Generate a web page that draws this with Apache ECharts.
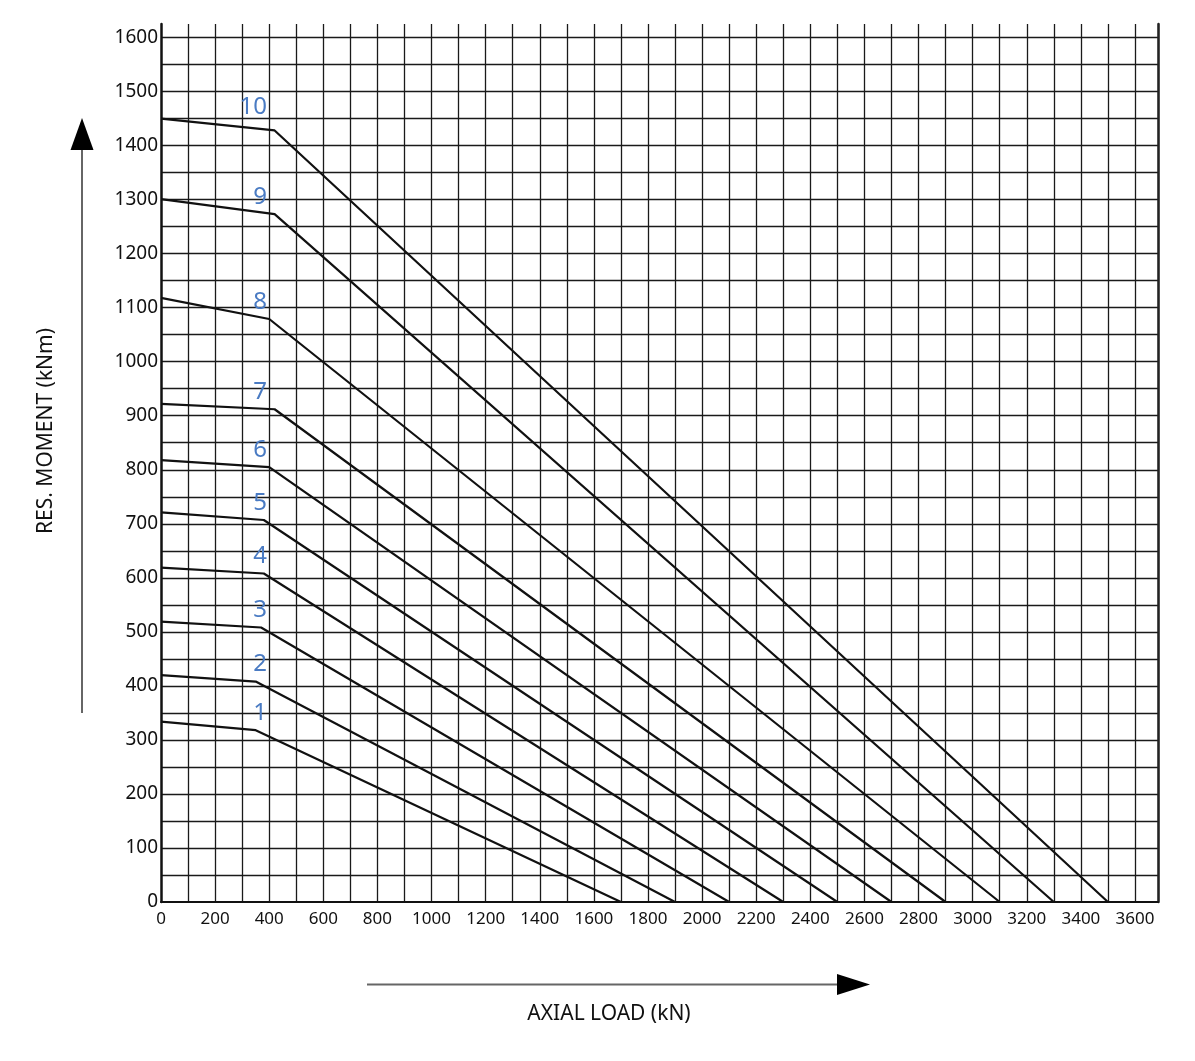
<!DOCTYPE html>
<html>
<head>
<meta charset="utf-8">
<script src="https://cdn.jsdelivr.net/npm/echarts@6/dist/echarts.min.js"></script>
<style>
  html, body { margin: 0; padding: 0; background: #fff; }
  #chart { width: 1195px; height: 1061px; }
</style>
</head>
<body>
<div id="chart"></div>
<script>
// ----------------------
// DATA
// ----------------------
const curveNames = ["1", "2", "3", "4", "5", "6", "7", "8", "9", "10"];
const startMoment = [334, 420, 519, 619, 721, 818, 922, 1118, 1301, 1450];
const breakLoad = [350, 350, 370, 380, 380, 400, 420, 400, 420, 420];
const breakMoment = [318, 408, 508, 608, 707, 805, 912, 1079, 1273, 1428];
const endLoad = [1700, 1900, 2100, 2300, 2500, 2700, 2900, 3100, 3300, 3500];

const labelLoad = 392; // right edge of the curve numbers

const FONT = "Noto Sans";
const INK = "#111";

const chart = echarts.init(document.getElementById("chart"));

const series = curveNames.map((name, i) => ({
  name: name,
  type: "line",
  symbol: "none",
  lineStyle: { color: INK, width: 2.2 },
  data: [
    [0, startMoment[i]],
    [breakLoad[i], breakMoment[i]],
    [endLoad[i], 0],
  ],
  markPoint: {
    symbol: "circle",
    symbolSize: 0,
    silent: true,
    label: {
      show: true,
      position: "inside",
      align: "right",
      // the top label sits a little higher in the original
      offset: [0, name === "10" ? -23 : -17],
      formatter: name,
      color: "#4a7bc3",
      fontFamily: FONT,
      fontSize: 24,
    },
    data: [{ coord: [labelLoad, breakMoment[i]] }],
  },
}));

chart.setOption({
  animation: false,
  backgroundColor: "#fff",
  grid: { left: 161, right: 37, top: 24, bottom: 159, outerBoundsMode: "none" },
  xAxis: {
    type: "value",
    min: 0,
    max: 3685,
    interval: 100,
    axisLine: { show: true, lineStyle: { color: INK, width: 2 } },
    axisTick: { show: false },
    axisLabel: {
      margin: 9,
      color: INK,
      fontFamily: FONT,
      fontSize: 17,
      formatter: (v) => (v % 200 === 0 && v <= 3600 ? String(v) : ""),
    },
    splitLine: {
      show: true,
      showMinLine: false,
      showMaxLine: true,
      lineStyle: { color: "#1a1a1a", width: 1.3 },
    },
  },
  yAxis: [
    {
      type: "value",
      min: 0,
      max: 1625,
      interval: 50,
      axisLine: { show: true, lineStyle: { color: INK, width: 2.5 } },
      axisTick: { show: false },
      axisLabel: {
        margin: 3,
        color: INK,
        fontFamily: FONT,
        fontSize: 19,
        formatter: (v) => (v % 100 === 0 && v <= 1600 ? String(v) : ""),
      },
      splitLine: {
        show: true,
        showMinLine: false,
        showMaxLine: false,
        lineStyle: { color: "#1a1a1a", width: 1.3 },
      },
    },
    {
      type: "value",
      position: "right",
      min: 0,
      max: 1625,
      axisLine: { show: true, lineStyle: { color: "#222", width: 2.5 } },
      axisTick: { show: false },
      axisLabel: { show: false },
      splitLine: { show: false },
    },
  ],
  series: series,
  graphic: [
    // vertical arrow + title
    { type: "line", shape: { x1: 82, y1: 713, x2: 82, y2: 148 }, style: { stroke: "#666", lineWidth: 2 } },
    { type: "polygon", shape: { points: [[82, 118], [70.5, 150], [93.5, 150]] }, style: { fill: "#000" } },
    {
      type: "text",
      x: 46,
      y: 431,
      rotation: Math.PI / 2,
      style: {
        text: "RES. MOMENT (kNm)",
        fontFamily: FONT,
        fontSize: 21,
        fill: INK,
        textAlign: "center",
        textVerticalAlign: "middle",
      },
    },
    // horizontal arrow + title
    { type: "line", shape: { x1: 367, y1: 984.5, x2: 839, y2: 984.5 }, style: { stroke: "#666", lineWidth: 2 } },
    { type: "polygon", shape: { points: [[870, 984.5], [837, 974], [837, 995]] }, style: { fill: "#000" } },
    {
      type: "text",
      x: 609,
      y: 1014,
      style: {
        text: "AXIAL LOAD (kN)",
        fontFamily: FONT,
        fontSize: 21,
        fill: INK,
        textAlign: "center",
        textVerticalAlign: "middle",
      },
    },
  ],
});
</script>
</body>
</html>
